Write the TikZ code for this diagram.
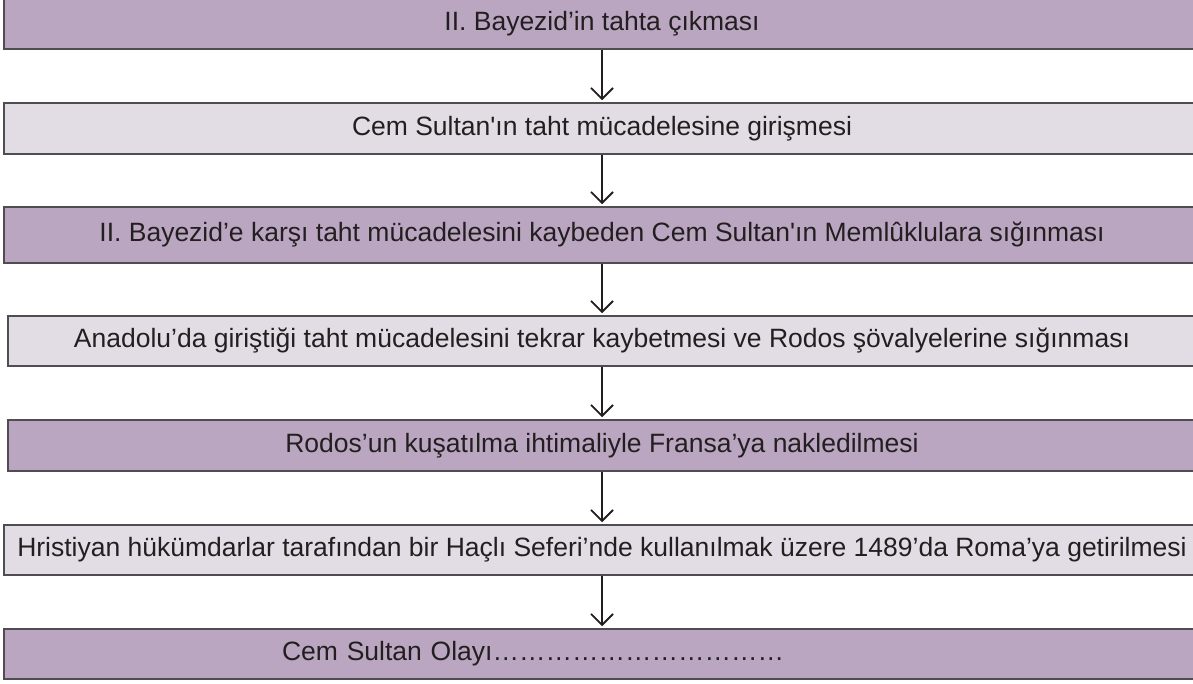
\documentclass[tikz,border=0pt]{standalone}
\usepackage{fontspec}
\newfontfamily\metin{Liberation Sans}
\usetikzlibrary{arrows.meta}
\definecolor{koyumor}{RGB}{187,166,193}
\definecolor{acikmor}{RGB}{226,221,229}
\definecolor{cizgi}{RGB}{80,77,82}
\definecolor{yazi}{RGB}{35,31,32}
\tikzset{
  kutu/.style={draw=cizgi,line width=1.5pt,minimum width=1196pt,inner sep=0pt,
    font=\metin\fontsize{26.5}{30}\selectfont,text=yazi},
  koyukutu/.style={kutu,fill=koyumor},
  acikkutu/.style={kutu,fill=acikmor},
  ok/.style={draw=yazi,line width=1.8pt,shorten >=2pt,
    -{Straight Barb[length=11pt,width=22pt,line width=1.8pt]}}
}

\begin{document}
\begin{tikzpicture}[x=1pt,y=-1pt]
          \useasboundingbox (0,0) rectangle (1193,684);
          \clip (0,0) rectangle (1193,684);
          \node[koyukutu,minimum height=51pt] (b1) at (602,23.5) {II. Bayezid’in tahta çıkması};
          \node[acikkutu,minimum height=51pt] (b2) at (602,128.5) {Cem Sultan'ın taht mücadelesine girişmesi};
          \node[koyukutu,minimum height=56pt] (b3) at (602,235) {II. Bayezid’e karşı taht mücadelesini kaybeden Cem Sultan'ın Memlûklulara sığınması};
          \node[acikkutu,minimum height=50pt,minimum width=1188pt] (b4) at (602,341) {Anadolu’da giriştiği taht mücadelesini tekrar kaybetmesi ve Rodos şövalyelerine sığınması};
          \node[koyukutu,minimum height=51pt,minimum width=1188pt] (b5) at (602,445.5) {Rodos’un kuşatılma ihtimaliyle Fransa’ya nakledilmesi};
          \node[acikkutu,minimum height=50pt] (b6) at (602,550) {Hristiyan hükümdarlar tarafından bir Haçlı Seferi’nde kullanılmak üzere 1489’da Roma’ya getirilmesi};
          \node[koyukutu,minimum height=50pt,text width=640pt,inner xsep=278pt,align=left] (b7) at (602,654) {Cem Sultan Olayı……………………………};
          \foreach \u/\v in {b1/b2,b2/b3,b3/b4,b4/b5,b5/b6,b6/b7}
            \draw[ok] (\u) -- (\v);
        \end{tikzpicture}
\end{document}
